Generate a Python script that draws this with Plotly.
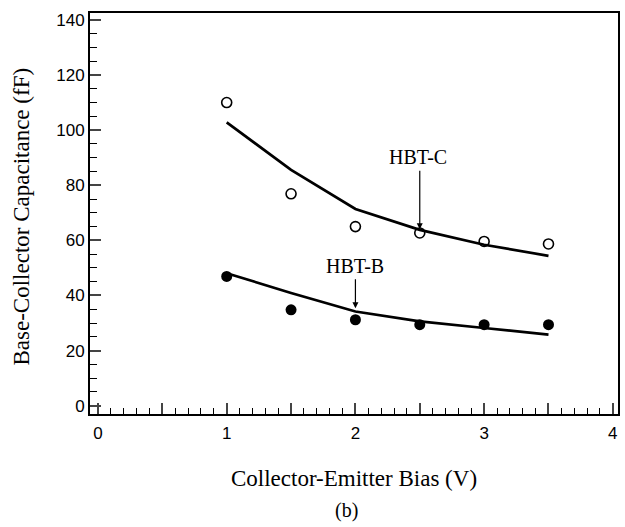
import plotly.graph_objects as go

bias = [1.0, 1.5, 2.0, 2.5, 3.0, 3.5]
hbt_c_meas = [110, 76.9, 65, 62.7, 59.6, 58.7]
hbt_c_model = [102.8, 85.6, 71.4, 63.8, 58.4, 54.4]
hbt_b_meas = [46.9, 34.8, 31.2, 29.4, 29.4, 29.4]
hbt_b_model = [48.1, 40.9, 34.2, 30.6, 28.2, 25.8]
x_ticks = [0, 0.5, 1, 1.5, 2, 2.5, 3, 3.5, 4]
x_tick_labels = ["0", "", "1", "", "2", "", "3", "", "4"]
y_ticks = [0, 20, 40, 60, 80, 100, 120, 140]

fig = go.Figure()
fig.add_trace(go.Scatter(x=bias, y=hbt_c_model, mode="lines", line=dict(color="black", width=2.7), showlegend=False))
fig.add_trace(go.Scatter(x=bias, y=hbt_b_model, mode="lines", line=dict(color="black", width=2.7), showlegend=False))
fig.add_trace(go.Scatter(x=bias, y=hbt_c_meas, mode="markers",
                         marker=dict(symbol="circle-open", size=10, color="black", line=dict(width=1.6)), showlegend=False))
fig.add_trace(go.Scatter(x=bias, y=hbt_b_meas, mode="markers",
                         marker=dict(symbol="circle", size=11, color="black"), showlegend=False))

tickfont = dict(family="Liberation Sans, Arial", size=17, color="black")
serif_title = dict(family="Liberation Serif, Times New Roman", size=23, color="black")
fig.update_xaxes(range=[-0.062, 4.04], tickvals=x_ticks, ticktext=x_tick_labels, ticks="inside", ticklen=11, tickwidth=1.5,
                 showline=True, linecolor="black", linewidth=2, mirror=True, showgrid=False, zeroline=False,
                 tickfont=tickfont, automargin=False, ticklabelstandoff=3,
                 minor=dict(ticks="inside", dtick=0.1, ticklen=6, tickwidth=1, tickcolor="black"),
                 title=dict(text="Collector-Emitter Bias (V)", font=serif_title, standoff=27))
fig.update_yaxes(range=[-3, 142.5], tickvals=y_ticks, ticks="inside", ticklen=11, tickwidth=1.5,
                 showline=True, linecolor="black", linewidth=2, mirror=True, showgrid=False, zeroline=False,
                 tickfont=tickfont, automargin=False,
                 minor=dict(ticks="inside", dtick=5, ticklen=7, tickwidth=1, tickcolor="black"))

fig.add_annotation(x=(21 - 90) / 528, y=(414 - 216.5) / 401, xref="paper", yref="paper",
                   text="Base-Collector Capacitance (fF)", textangle=-90, showarrow=False,
                   font=serif_title, xanchor="center", yanchor="middle")

serif = dict(family="Liberation Serif, Times New Roman", size=20, color="black")
fig.add_annotation(x=2.49, y=90.3, text="HBT-C", showarrow=False, font=serif)
fig.add_annotation(x=2.5, y=64.0, ax=2.5, ay=85.8, axref="x", ayref="y", text="", showarrow=True,
                   arrowhead=2, arrowsize=1, arrowwidth=1.2, arrowcolor="black")
fig.add_annotation(x=2.0, y=50.8, text="HBT-B", showarrow=False, font=serif)
fig.add_annotation(x=2.0, y=35.4, ax=2.0, ay=46.4, axref="x", ayref="y", text="", showarrow=True,
                   arrowhead=2, arrowsize=1, arrowwidth=1.2, arrowcolor="black")
fig.add_annotation(x=(346 - 90) / 528, y=-(511 - 414) / 401, xref="paper", yref="paper", text="(b)",
                   showarrow=False, font=dict(family="Liberation Serif, Times New Roman", size=20, color="black"),
                   xanchor="center", yanchor="middle")

fig.update_layout(width=625, height=527, margin=dict(l=90, r=7, t=13, b=113),
                  plot_bgcolor="white", paper_bgcolor="white")
fig.write_html("out.html", config={"displayModeBar": False},
               post_script="document.body.style.margin='0px';")
